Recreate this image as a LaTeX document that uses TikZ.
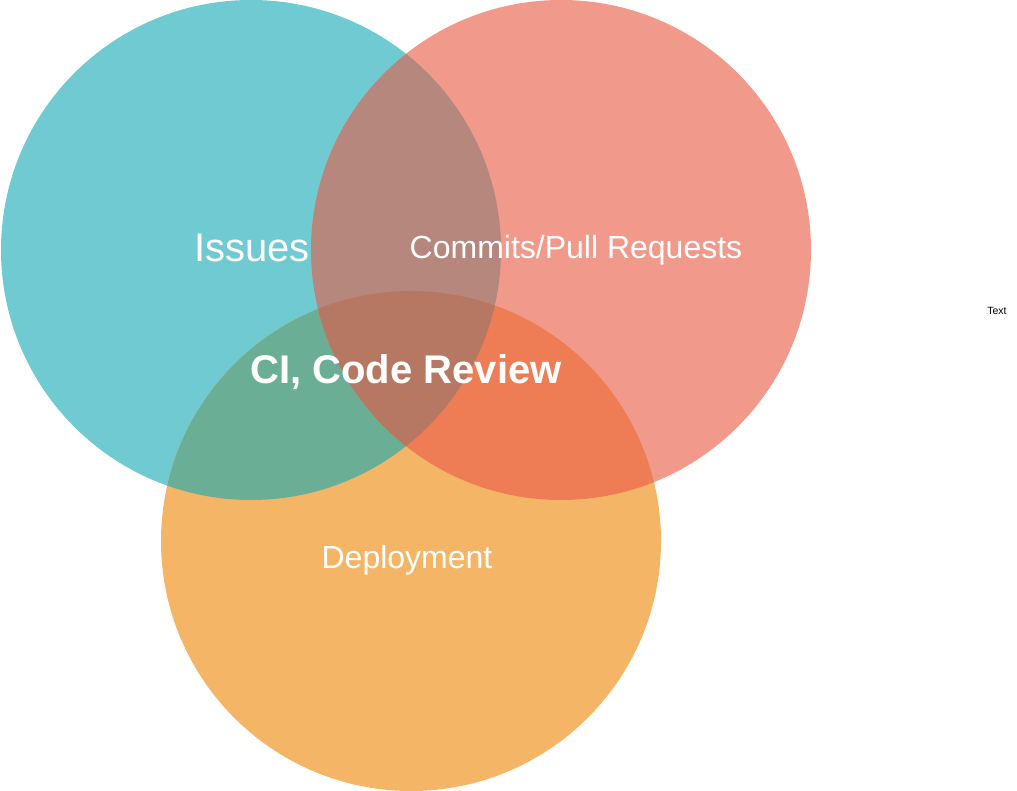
\documentclass[tikz,border=0pt]{standalone}
\usepackage{fontspec}
\setmainfont{Liberation Sans}
\definecolor{cteal}{HTML}{6FCAD1}
\definecolor{csalmon}{HTML}{F19A8C}
\definecolor{corange}{HTML}{F5B567}
\definecolor{cts}{HTML}{B6877D}
\definecolor{cto}{HTML}{6BAE96}
\definecolor{cso}{HTML}{EE7D55}
\definecolor{call}{HTML}{B67862}
\tikzset{
  lbl/.style={anchor=base, text=white, inner sep=0pt, font=\fontsize{32}{36}\selectfont},
  biglbl/.style={anchor=base, text=white, inner sep=0pt, font=\fontsize{40}{44}\selectfont},
}
\begin{document}
\begin{tikzpicture}[x=1pt,y=-1pt]
\useasboundingbox (0,0) rectangle (1017,791);
\def\ct{(251,250) circle (250)}
\def\cs{(561,250) circle (250)}
\def\co{(411,541) circle (250)}
\fill[cteal] \ct;
\fill[csalmon] \cs;
\fill[corange] \co;
\begin{scope}\clip \ct; \fill[cts] \cs; \end{scope}
\begin{scope}\clip \ct; \fill[cto] \co; \end{scope}
\begin{scope}\clip \cs; \fill[cso] \co; \end{scope}
\begin{scope}\clip \ct; \clip \cs; \fill[call] \co; \end{scope}
\node[biglbl] (issues) at (252,262) {Issues};
\node[lbl] (commits) at (576,259) {Commits/Pull Requests};
\node[biglbl, font=\fontsize{40}{44}\selectfont\bfseries] (ci) at (406,383) {CI, Code Review};
\node[lbl] (deploy) at (407,568) {Deployment};
\node[anchor=base, inner sep=0pt, font=\fontsize{10.5}{12}\selectfont] (text) at (997,315) {Text};
\end{tikzpicture}
\end{document}
